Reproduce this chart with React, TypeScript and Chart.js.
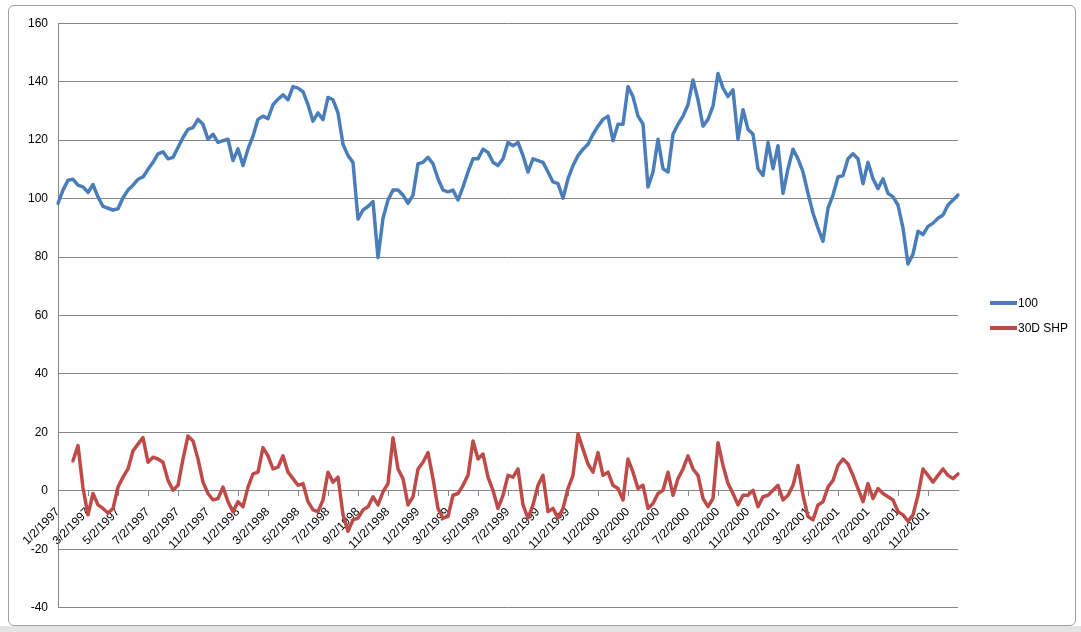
import { useEffect, useRef } from "react";
import { Chart, registerables } from "chart.js";

Chart.register(...registerables);

// labels shown under the zero line, one every 2 months
const TICK_LABELS = [
  "1/2/1997", "3/2/1997", "5/2/1997", "7/2/1997", "9/2/1997", "11/2/1997",
  "1/2/1998", "3/2/1998", "5/2/1998", "7/2/1998", "9/2/1998", "11/2/1998",
  "1/2/1999", "3/2/1999", "5/2/1999", "7/2/1999", "9/2/1999", "11/2/1999",
  "1/2/2000", "3/2/2000", "5/2/2000", "7/2/2000", "9/2/2000", "11/2/2000",
  "1/2/2001", "3/2/2001", "5/2/2001", "7/2/2001", "9/2/2001", "11/2/2001",
];
const POINTS_PER_TICK = 6; // samples between two labels

const SERIES_NAMES = ["100", "30D SHP"];
const SERIES_COLORS = ["#4A7EBB", "#BE4B48"];

// index level (rebased to 100)
const SERIES_100 = [
  98.4, 102.9, 106.3, 106.6, 104.6, 104, 102.1, 104.8, 100.6, 97.3,
  96.7, 96.1, 96.5, 100.3, 102.9, 104.6, 106.6, 107.4, 110, 112.4,
  115.3, 116, 113.6, 114.1, 117.5, 120.9, 123.7, 124.3, 127.1, 125.4,
  120.3, 122, 119.2, 119.8, 120.3, 113, 117, 111.3, 117, 121.4,
  127.1, 128.2, 127.3, 132.1, 134, 135.5, 133.8, 138.3, 137.8, 136.6,
  132.1, 126.5, 129.3, 127, 134.6, 133.8, 129.3, 118.6, 114.7, 112.4,
  93, 96.1, 97.3, 99, 79.8, 93.3, 99.5, 102.9, 102.9, 101.2,
  98.4, 101.2, 111.9, 112.4, 114.1, 111.9, 106.8, 102.9, 102.3, 102.9,
  99.5, 104, 109.1, 113.6, 113.6, 116.9, 115.8, 112.4, 111.3, 113.6,
  119.2, 118.1, 119.2, 114.7, 109.1, 113.6, 113, 112.4, 109.1, 105.7,
  105.1, 100.1, 106.8, 111.3, 114.7, 116.9, 118.6, 122, 124.8, 127.1,
  128.2, 119.8, 125.4, 125.4, 138.3, 134.9, 128.2, 125.5, 104, 109.1,
  120.3, 110.2, 109.1, 122, 125.4, 128.2, 132.1, 140.6, 133.8, 124.8,
  127.1, 131.6, 142.8, 137.8, 134.9, 137.2, 120.3, 130.4, 123.7, 122,
  110.2, 107.9, 119.2, 110.2, 118.1, 101.8, 110.2, 116.9, 113.6, 109.1,
  101.8, 95, 89.9, 85.4, 96.7, 101.2, 107.4, 107.9, 113.6, 115.3,
  113.6, 105.1, 112.4, 106.8, 103.4, 106.8, 101.8, 100.6, 97.8, 89.9,
  77.6, 81, 88.8, 87.7, 90.5, 91.6, 93.3, 94.4, 97.8, 99.5, 101.2,
];

// 30 day SHP (starts once the window is filled)
const SERIES_30D = [
  null, null, null, 10.3, 15.5, 1, -8.2, -0.9, -4.8, -6,
  -7.6, -6, 1.3, 4.7, 7.5, 13.7, 16, 18.2, 9.8, 11.5,
  10.9, 9.8, 3.6, 0.2, 1.9, 10.9, 18.8, 17.1, 10.9, 3,
  -0.9, -3.1, -2.6, 1.3, -3.7, -7.1, -3.7, -5.4, 1.3, 5.8,
  6.4, 14.8, 12, 7.5, 8.1, 12, 6.4, 4.2, 1.9, 2.5,
  -3.7, -6.5, -7.1, -3.1, 6.4, 3, 4.7, -8.2, -13.8, -9.9,
  -9.3, -6.5, -5.4, -2, -4.8, -0.3, 2.5, 18.2, 7.5, 4.2,
  -4.8, -2, 7.5, 9.8, 13.1, 4.2, -6, -9.3, -8.8, -1.5,
  -0.9, 1.9, 5.3, 17.1, 10.9, 12.6, 4.7, 0.2, -6, -1.5,
  5.3, 4.7, 7.5, -4.8, -9.3, -4.8, 1.9, 5.3, -7.1, -6,
  -9.3, -6, 0.8, 5.3, 19.5, 14.3, 9.2, 6.4, 13.1, 5.3,
  6.4, 1.9, 0.8, -3.1, 10.9, 6.4, 0.8, 1.9, -6, -4.3,
  -0.9, 0.2, 6.4, -1.5, 4.2, 7.5, 12, 7.5, 5.3, -2.6,
  -5.4, -2.6, 16.5, 8.7, 2.5, -0.9, -4.8, -1.5, -1.5, 0.2,
  -5.4, -2, -1.5, 0.2, 1.9, -3.1, -1.5, 1.9, 8.7, -1.5,
  -8.8, -9.9, -4.8, -3.7, 1.3, 3.6, 8.7, 10.9, 9.2, 5.3,
  0.8, -3.7, 2.5, -2.6, 0.8, -0.9, -2, -3.1, -7.1, -8.2,
  -10.4, -8.2, -1.5, 7.5, 5.3, 3, 5.3, 7.5, 5.3, 4.2, 5.8,
];

const Y_MIN = -40;
const Y_MAX = 160;
const Y_STEP = 20;

const FONT = "'Liberation Sans', Arial, sans-serif";
const GRID = "#868686";

// one category per sample, only every 6th carries a date
const CATEGORIES = SERIES_100.map((_, i) =>
  i % POINTS_PER_TICK === 0 ? TICK_LABELS[i / POINTS_PER_TICK] ?? "" : ""
);

export default function App() {
  const canvasRef = useRef<HTMLCanvasElement | null>(null);

  useEffect(() => {
    const ctx = canvasRef.current!.getContext("2d")!;
    const chart = new Chart(ctx, {
      type: "line",
      data: {
        labels: CATEGORIES,
        datasets: [
          {
            label: SERIES_NAMES[0],
            data: SERIES_100,
            borderColor: SERIES_COLORS[0],
            backgroundColor: SERIES_COLORS[0],
            borderWidth: 3.5,
            pointRadius: 0,
            borderJoinStyle: "round",
            borderCapStyle: "round",
            tension: 0,
          },
          {
            label: SERIES_NAMES[1],
            data: SERIES_30D as (number | null)[],
            borderColor: SERIES_COLORS[1],
            backgroundColor: SERIES_COLORS[1],
            borderWidth: 3.5,
            pointRadius: 0,
            borderJoinStyle: "round",
            borderCapStyle: "round",
            tension: 0,
          },
        ],
      },
      options: {
        responsive: false,
        animation: false,
        layout: { padding: { top: 12, right: 117, bottom: 12, left: 0 } },
        plugins: {
          legend: { display: false },
          tooltip: { enabled: false },
        },
        scales: {
          x: {
            type: "category",
            offset: false,
            position: { y: 0 } as any,
            grid: {
              drawOnChartArea: false,
              drawTicks: true,
              tickLength: 5,
              tickColor: (c: any) =>
                c.index % POINTS_PER_TICK === 0 && CATEGORIES[c.index] ? GRID : "rgba(0,0,0,0)",
            },
            border: { display: true, color: GRID, width: 1 },
            ticks: {
              autoSkip: false,
              minRotation: 45,
              maxRotation: 45,
              padding: 9,
              color: "#000",
              font: { family: FONT, size: 12 },
            },
          },
          y: {
            min: Y_MIN,
            max: Y_MAX,
            ticks: {
              stepSize: Y_STEP,
              padding: 10,
              color: "#000",
              font: { family: FONT, size: 12 },
            },
            grid: { color: GRID, drawTicks: false, lineWidth: 1 },
            border: { display: true, color: GRID, width: 1 },
            afterFit: (s: any) => {
              s.width = 49;
            },
          },
        },
      },
    });
    return () => chart.destroy();
  }, []);

  const legendText = { position: "absolute" as const, left: 1018, fontFamily: FONT, fontSize: 12, lineHeight: "14px", color: "#000" };

  return (
    <div style={{ position: "absolute", left: 0, top: 0, width: 1081, height: 632, background: "#ffffff", overflow: "hidden" }}>
      <div style={{ position: "absolute", left: 0, top: 626, width: 1081, height: 6, background: "#e4e4e4" }} />
      <div
        style={{
          position: "absolute",
          left: 8,
          top: 5,
          width: 1068,
          height: 621,
          boxSizing: "border-box",
          border: "1px solid #a0a0a0",
          borderRadius: 6,
          background: "#ffffff",
        }}
      >
        <canvas ref={canvasRef} width={1066} height={619} style={{ position: "absolute", left: 0, top: 0 }} />
      </div>
      <div style={{ position: "absolute", left: 990, top: 301, width: 27, height: 4, background: SERIES_COLORS[0] }} />
      <div style={{ ...legendText, top: 296 }}>{SERIES_NAMES[0]}</div>
      <div style={{ position: "absolute", left: 990, top: 326, width: 27, height: 4, background: SERIES_COLORS[1] }} />
      <div style={{ ...legendText, top: 321 }}>{SERIES_NAMES[1]}</div>
    </div>
  );
}
